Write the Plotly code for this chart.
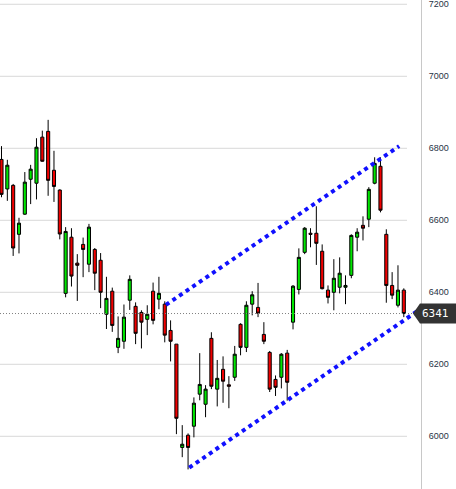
import plotly.graph_objects as go

# OHLC data (one candle per session)
opens = [6769, 6687, 6697, 6561, 6617, 6714, 6703, 6831, 6847, 6739,
         6684, 6397, 6553, 6481, 6533, 6478, 6519, 6489, 6339, 6403,
         6247, 6264, 6378, 6361, 6344, 6325, 6403, 6381, 6367, 6294,
         6256, 5969, 6003, 6028, 6117, 6089, 6272, 6131, 6186, 6143,
         6164, 6311, 6247, 6367, 6358, 6283, 6233, 6158, 6164, 6231,
         6317, 6408, 6511, 6564, 6564, 6514, 6406, 6400, 6414, 6414,
         6447, 6553, 6586, 6603, 6703, 6750, 6561, 6419, 6364, 6406]
highs = [6806, 6768, 6701, 6607, 6734, 6754, 6828, 6849, 6879, 6793,
         6686, 6581, 6578, 6506, 6552, 6590, 6523, 6509, 6443, 6413,
         6333, 6366, 6447, 6372, 6350, 6364, 6427, 6443, 6375, 6322,
         6256, 6031, 6008, 6108, 6231, 6142, 6289, 6212, 6222, 6167,
         6251, 6314, 6375, 6403, 6426, 6317, 6237, 6169, 6231, 6240,
         6420, 6522, 6581, 6578, 6639, 6533, 6419, 6492, 6497, 6447,
         6561, 6578, 6611, 6692, 6775, 6775, 6575, 6456, 6475, 6411]
lows = [6664, 6654, 6501, 6508, 6615, 6645, 6658, 6763, 6668, 6651,
        6547, 6386, 6416, 6376, 6442, 6456, 6406, 6356, 6298, 6290,
        6231, 6243, 6351, 6256, 6244, 6281, 6311, 6353, 6261, 6208,
        6006, 5942, 5908, 5997, 6100, 6053, 6131, 6083, 6093, 6078,
        6154, 6225, 6234, 6336, 6331, 6256, 6123, 6112, 6133, 6099,
        6297, 6394, 6506, 6525, 6476, 6408, 6369, 6350, 6397, 6367,
        6439, 6514, 6544, 6581, 6700, 6622, 6371, 6381, 6358, 6331]
closes = [6672, 6753, 6523, 6592, 6706, 6742, 6803, 6764, 6711, 6694,
          6562, 6569, 6445, 6475, 6519, 6581, 6453, 6400, 6383, 6308,
          6272, 6331, 6436, 6286, 6317, 6339, 6322, 6397, 6281, 6264,
          6050, 5978, 5969, 6092, 6144, 6131, 6139, 6161, 6153, 6139,
          6228, 6247, 6364, 6393, 6342, 6264, 6131, 6136, 6228, 6150,
          6417, 6497, 6578, 6561, 6536, 6410, 6386, 6439, 6453, 6419,
          6558, 6567, 6578, 6686, 6758, 6628, 6419, 6392, 6406, 6341]
sessions = list(range(len(opens)))

price_ticks = [6000, 6200, 6400, 6600, 6800, 7000, 7200]

# trend channel (session index, price)
upper_trend_x = [28.2, 68.2]
upper_trend_y = [6365, 6806]
lower_trend_x = [32.2, 71.8]
lower_trend_y = [5913, 6353]

last_price = closes[-1]

W, H = 456, 489
M_R = 35
plot_w = W - M_R
y_range = [5853.6, 7211.9]
x_range = [-0.257, 71.95]
px_per_price = H / (y_range[1] - y_range[0])

fig = go.Figure()

fig.add_trace(go.Candlestick(
    x=sessions, open=opens, high=highs, low=lows, close=closes,
    increasing=dict(line=dict(color="#000000", width=1), fillcolor="#00e600"),
    decreasing=dict(line=dict(color="#000000", width=1), fillcolor="#f00000"),
    whiskerwidth=0, hoverinfo="skip", showlegend=False,
))

for tx, ty in [(upper_trend_x, upper_trend_y), (lower_trend_x, lower_trend_y)]:
    fig.add_trace(go.Scatter(
        x=tx, y=ty, mode="lines",
        line=dict(color="#1010ff", width=4, dash="dot"),
        hoverinfo="skip", showlegend=False,
    ))

shapes = []
grid_end = 407 / plot_w
for t in price_ticks:
    shapes.append(dict(type="line", xref="paper", yref="y", x0=0, x1=grid_end,
                       y0=t, y1=t, line=dict(color="#d8d8d8", width=1), layer="below"))

# last price dotted line
shapes.append(dict(type="line", xref="paper", yref="y", x0=0, x1=413 / plot_w,
                   y0=last_price, y1=last_price,
                   line=dict(color="#808080", width=1, dash="1px,2px"), layer="above"))

# last price label box with arrow
hh = 10 / px_per_price
tip = 413 / plot_w
shoulder = 420 / plot_w
right = 470 / plot_w
path = (f"M {tip},{last_price} L {shoulder},{last_price + hh} L {right},{last_price + hh} "
        f"L {right},{last_price - hh} L {shoulder},{last_price - hh} Z")
shapes.append(dict(type="path", xref="paper", yref="y", path=path,
                   fillcolor="#333333", line=dict(width=0), layer="above"))

fig.update_layout(
    width=W, height=H,
    margin=dict(l=0, r=M_R, t=0, b=0, pad=0),
    paper_bgcolor="#ffffff", plot_bgcolor="#ffffff",
    boxgap=0.47, boxgroupgap=0,
    shapes=shapes,
    showlegend=False,
    xaxis=dict(range=x_range, visible=False, rangeslider=dict(visible=False),
               showgrid=False, zeroline=False),
    yaxis=dict(range=y_range, side="right", tickvals=price_ticks,
               ticktext=[str(t) for t in price_ticks],
               showgrid=False, zeroline=False, showline=True,
               linecolor="#c8c8c8", linewidth=1,
               ticks="outside", ticklen=5, tickcolor="rgba(0,0,0,0)",
               ticklabeloverflow="allow",
               tickfont=dict(family="Liberation Sans, Arial", size=9, color="#1f3344")),
    annotations=[dict(xref="paper", yref="y", x=435 / plot_w, y=last_price,
                      text=str(last_price), showarrow=False, xanchor="center",
                      yanchor="middle",
                      font=dict(family="DejaVu Sans Mono", size=11, color="#ffffff"))],
)

fig.write_html("out.html", config={"displayModeBar": False},
               post_script="document.body.style.margin='0';document.body.style.overflow='hidden';")
